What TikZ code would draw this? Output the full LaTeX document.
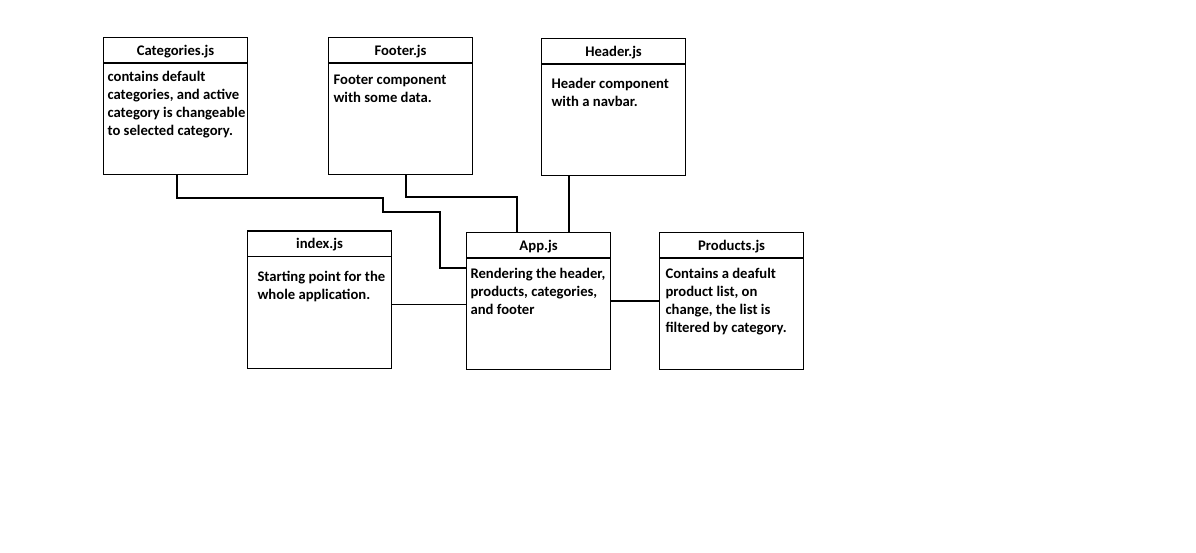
\documentclass[tikz,border=0pt]{standalone}
\usepackage{fontspec}
\setmainfont{Carlito}
\begin{document}
\begin{tikzpicture}[x=1pt,y=-1pt,line width=1.1pt,
    box/.style={draw,anchor=north west,minimum width=144pt,minimum height=137pt,inner sep=0pt},
    title/.style={font=\fontsize{14.67}{17.9}\selectfont\bfseries},
    body/.style={anchor=north west,align=left,inner sep=0pt,font=\fontsize{14.67}{17.9}\selectfont\bfseries}]
  \useasboundingbox (0,0) rectangle (1196,553);
  % 箱
  \node[box] (cat) at (103,37) {};
  \node[box] (ftr) at (328,37) {};
  \node[box] (hdr) at (541,38) {};
  \node[box] (idx) at (247,230.5) {};
  \node[box] (app) at (466,232) {};
  \node[box] (prd) at (659,232) {};
  % 見出し線
  \draw ([yshift=-26pt]cat.north west) -- ([yshift=-26pt]cat.north east);
  \draw ([yshift=-26pt]ftr.north west) -- ([yshift=-26pt]ftr.north east);
  \draw ([yshift=-26pt]hdr.north west) -- ([yshift=-26pt]hdr.north east);
  \draw ([yshift=-26pt]idx.north west) -- ([yshift=-26pt]idx.north east);
  \draw ([yshift=-26pt]app.north west) -- ([yshift=-26pt]app.north east);
  \draw ([yshift=-26pt]prd.north west) -- ([yshift=-26pt]prd.north east);
  % 見出し
  \node[title] (cattitle) at ([yshift=-14.5pt]cat.north) {Categories.js};
  \node[title] (ftrtitle) at ([yshift=-14.5pt]ftr.north) {Footer.js};
  \node[title] (hdrtitle) at ([yshift=-14.5pt]hdr.north) {Header.js};
  \node[title] (idxtitle) at ([yshift=-14.5pt]idx.north) {index.js};
  \node[title] (apptitle) at ([yshift=-14.5pt]app.north) {App.js};
  \node[title] (prdtitle) at ([yshift=-14.5pt]prd.north) {Products.js};
  % 説明
  \node[body] (cattext) at ([xshift=4pt,yshift=-33.5pt]cat.north west)
    {contains default\\categories, and active\\category is changeable\\to selected category.};
  \node[body] (ftrtext) at ([xshift=5pt,yshift=-37.5pt]ftr.north west)
    {Footer component\\with some data.};
  \node[body] (hdrtext) at ([xshift=10pt,yshift=-40pt]hdr.north west)
    {Header component\\with a navbar.};
  \node[body] (idxtext) at ([xshift=10pt,yshift=-40pt]idx.north west)
    {Starting point for the\\whole application.};
  \node[body] (apptext) at ([xshift=4pt,yshift=-36pt]app.north west)
    {Rendering the header,\\products, categories,\\and footer};
  \node[body] (prdtext) at ([xshift=6pt,yshift=-36pt]prd.north west)
    {Contains a deafult\\product list, on\\change, the list is\\filtered by category.};
  % 接続線
  \draw ([xshift=74pt]cat.south west) |- (383,198) |- (440,212) |- ([yshift=-36pt]app.north west);
  \draw ([xshift=78pt]ftr.south west) |- (517,197) -- ([xshift=51pt]app.north west);
  \draw ([xshift=28pt]hdr.south west) -- ([xshift=103pt]app.north west);
  \draw ([yshift=-74pt]idx.north east) -- ([yshift=-72.5pt]app.north west);
  \draw ([yshift=-69pt]app.north east) -- ([yshift=-69pt]prd.north west);
\end{tikzpicture}
\end{document}
